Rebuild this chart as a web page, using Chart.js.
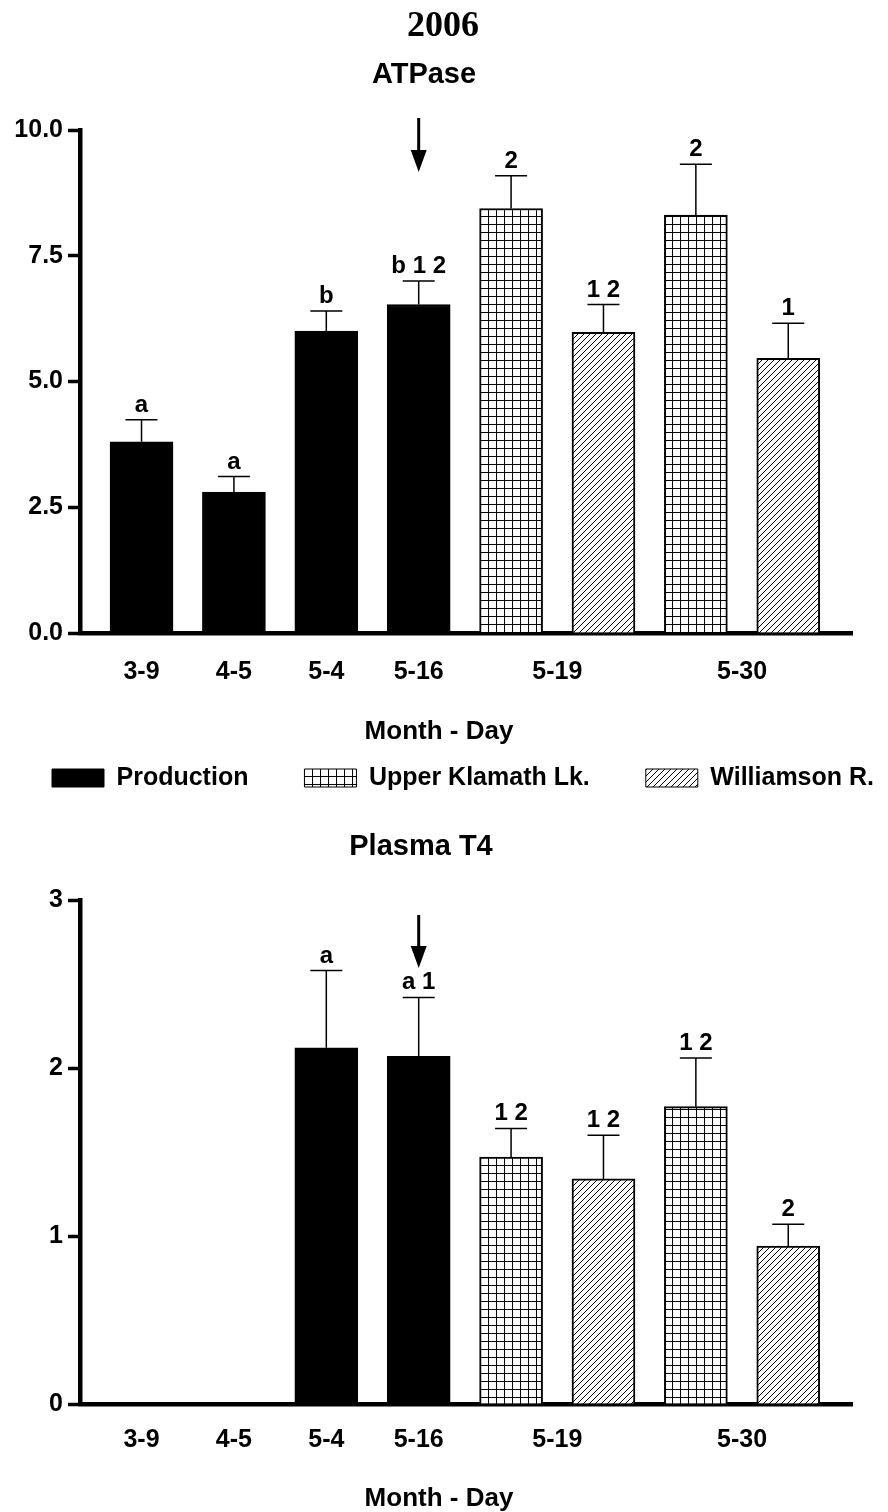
<!DOCTYPE html>
<html>
<head>
<meta charset="utf-8">
<script src="https://cdn.jsdelivr.net/npm/chart.js@4.4.1/dist/chart.umd.min.js"></script>
<style>
  html, body { margin: 0; padding: 0; background: #fff; }
  #wrap { position: relative; width: 888px; height: 1512px; overflow: hidden; }
  canvas { position: absolute; left: 0; }
  #atpChart { top: 0; }
  #t4Chart { top: 805px; }
</style>
</head>
<body>
<div id="wrap">
  <canvas id="atpChart" width="888" height="805"></canvas>
  <canvas id="t4Chart" width="888" height="707"></canvas>
</div>
<script>
/* ---------- data ---------- */
const sources = ["Production", "Upper Klamath Lk.", "Williamson R."];

// one entry per bar, left to right
const barDates  = ["3-9", "4-5", "5-4", "5-16", "5-19", "5-19", "5-30", "5-30"];
const barSource = [0, 0, 0, 0, 1, 2, 1, 2];

const atpMean = [3.80, 2.80, 6.00, 6.53, 8.44, 5.98, 8.31, 5.46];
const atpErr  = [0.44, 0.31, 0.40, 0.47, 0.65, 0.55, 1.01, 0.70];
const atpSig  = ["a", "a", "b", "b 1 2", "2", "1 2", "2", "1"];

const t4Mean = [null, null, 2.12, 2.07, 1.47, 1.34, 1.77, 0.94];
const t4Err  = [null, null, 0.46, 0.35, 0.17, 0.26, 0.29, 0.13];
const t4Sig  = ["", "", "a", "a 1", "1 2", "1 2", "1 2", "2"];

const atpTicks = [0, 2.5, 5, 7.5, 10];
const t4Ticks  = [0, 1, 2, 3];

/* ---------- helpers ---------- */
const FONT = "'Liberation Sans', Arial, Helvetica, sans-serif";

function gridPattern() {
  const c = document.createElement("canvas");
  c.width = 8; c.height = 8;
  const g = c.getContext("2d");
  g.fillStyle = "#fff"; g.fillRect(0, 0, 8, 8);
  g.fillStyle = "#000";
  g.fillRect(0, 0, 8, 1);
  g.fillRect(0, 0, 1, 8);
  return g.createPattern(c, "repeat");
}

function hatchPattern() {
  const c = document.createElement("canvas");
  c.width = 6; c.height = 6;
  const g = c.getContext("2d");
  g.fillStyle = "#fff"; g.fillRect(0, 0, 6, 6);
  g.strokeStyle = "#000"; g.lineWidth = 1;
  g.beginPath();
  g.moveTo(0, 6); g.lineTo(6, 0);
  g.moveTo(-1, 1); g.lineTo(1, -1);
  g.moveTo(5, 7); g.lineTo(7, 5);
  g.stroke();
  return g.createPattern(c, "repeat");
}

const fills = ["#000", gridPattern(), hatchPattern()];

// tick label per date, centred under its bars
const dateTicks = [...new Set(barDates)].map(d => {
  const idx = barDates.map((v, i) => (v === d ? i : -1)).filter(i => i >= 0);
  return { value: idx.reduce((a, b) => a + b, 0) / idx.length, label: d };
});

function makeDatasets(means) {
  return sources.map((name, s) => ({
    label: name,
    data: barDates
      .map((d, i) => ({ x: i, y: means[i] }))
      .filter((p, i) => barSource[i] === s && means[i] != null),
    backgroundColor: fills[s],
    borderColor: "#000",
    borderWidth: 2,
    barThickness: 63,
    grouped: false
  }));
}

// error bars, letters, arrow and free text
function decor(means, errs, sig, arrow, texts) {
  return {
    id: "decor",
    afterDatasetsDraw(chart) {
      const { ctx, chartArea, scales: { x, y } } = chart;
      ctx.save();
      ctx.strokeStyle = "#000";
      ctx.fillStyle = "#000";
      ctx.lineWidth = 1.5;
      ctx.font = `bold 24px ${FONT}`;
      ctx.textAlign = "center";
      ctx.textBaseline = "alphabetic";
      means.forEach((m, i) => {
        if (m == null) return;
        const px = x.getPixelForValue(i);
        const top = y.getPixelForValue(m);
        const cap = y.getPixelForValue(m + errs[i]);
        ctx.beginPath();
        ctx.moveTo(px, top); ctx.lineTo(px, cap);
        ctx.moveTo(px - 16, cap); ctx.lineTo(px + 16, cap);
        ctx.stroke();
        if (sig[i]) ctx.fillText(sig[i], px, cap - 8);
      });

      // arrow at the release date
      const ax = x.getPixelForValue(arrow.at);
      const y0 = chartArea.top + arrow.from;
      const y1 = chartArea.top + arrow.to;
      ctx.lineWidth = 3;
      ctx.beginPath();
      ctx.moveTo(ax, y0); ctx.lineTo(ax, y1 - 18);
      ctx.stroke();
      ctx.beginPath();
      ctx.moveTo(ax - 8, y1 - 22);
      ctx.lineTo(ax + 8, y1 - 22);
      ctx.lineTo(ax, y1);
      ctx.closePath();
      ctx.fill();

      texts.forEach(t => {
        ctx.font = t.font;
        ctx.textBaseline = "middle";
        ctx.fillText(t.text, t.x, t.y);
      });
      ctx.restore();
    }
  };
}

function makeScales(yMax, yTicks, fmt, xHeight, xPad) {
  return {
    x: {
      type: "linear",
      offset: false,
      min: -0.666,
      max: 7.69,
      afterFit: s => { s.height = xHeight; },
      afterBuildTicks: s => { s.ticks = dateTicks.map(t => ({ value: t.value })); },
      ticks: {
        autoSkip: false,
        maxRotation: 0,
        padding: xPad,
        color: "#000",
        font: { family: FONT, size: 25, weight: "bold" },
        callback: v => (dateTicks.find(t => Math.abs(t.value - v) < 1e-6) || {}).label
      },
      grid: { display: false, drawTicks: false, offset: false },
      border: { display: true, color: "#000", width: 4.5 }
    },
    y: {
      min: 0,
      max: yMax,
      afterFit: s => { s.width = 102; },
      afterBuildTicks: s => { s.ticks = yTicks.map(v => ({ value: v })); },
      ticks: {
        padding: 5,
        color: "#000",
        font: { family: FONT, size: 25, weight: "bold" },
        callback: fmt
      },
      grid: { drawOnChartArea: false, drawTicks: true, tickLength: 12, tickWidth: 3.5, tickColor: "#000" },
      border: { display: true, color: "#000", width: 4.5 }
    },
    pad: {
      type: "linear",
      position: "right",
      afterFit: s => { s.width = 96; },
      ticks: { display: false },
      grid: { display: false },
      border: { display: false }
    }
  };
}

/* ---------- ATPase ---------- */
new Chart(document.getElementById("atpChart"), {
  type: "bar",
  data: { datasets: makeDatasets(atpMean) },
  options: {
    responsive: false,
    animation: false,
    layout: { padding: { left: -22, right: -60, top: 130, bottom: 4.5 } },
    scales: makeScales(10, atpTicks, v => v.toFixed(1), 76.5, 24),
    plugins: {
      tooltip: { enabled: false },
      legend: {
        position: "bottom",
        labels: {
          color: "#000",
          font: { family: FONT, size: 25, weight: "bold" },
          boxWidth: 52,
          boxHeight: 18,
          padding: 56,
          generateLabels: chart => chart.data.datasets.map((ds, i) => ({
            text: ds.label,
            fillStyle: fills[i],
            strokeStyle: "#000",
            lineWidth: 1,
            datasetIndex: i,
            hidden: false
          }))
        }
      }
    }
  },
  plugins: [decor(atpMean, atpErr, atpSig, { at: 3, from: -12, to: 42 }, [
    { text: "2006", x: 443, y: 27, font: "bold 36px 'Liberation Serif', 'Times New Roman', serif" },
    { text: "ATPase", x: 424, y: 75, font: `bold 29px ${FONT}` },
    { text: "Month - Day", x: 439, y: 732, font: `bold 26px ${FONT}` }
  ])]
});

/* ---------- Plasma T4 ---------- */
new Chart(document.getElementById("t4Chart"), {
  type: "bar",
  data: { datasets: makeDatasets(t4Mean) },
  options: {
    responsive: false,
    animation: false,
    layout: { padding: { left: -22, right: -60, top: 95, bottom: 0 } },
    scales: makeScales(3, t4Ticks, v => String(v), 108, 21),
    plugins: {
      tooltip: { enabled: false },
      legend: { display: false }
    }
  },
  plugins: [decor(t4Mean, t4Err, t4Sig, { at: 3, from: 15, to: 68 }, [
    { text: "Plasma T4", x: 421, y: 42, font: `bold 29px ${FONT}` },
    { text: "Month - Day", x: 439, y: 694, font: `bold 26px ${FONT}` }
  ])]
});
</script>
</body>
</html>
